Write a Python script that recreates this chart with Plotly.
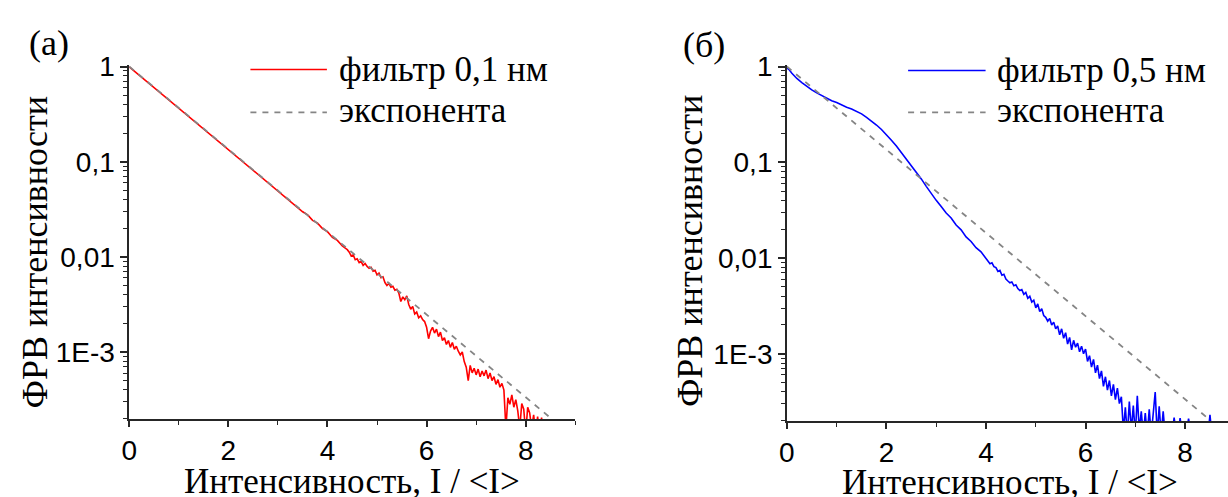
import plotly.graph_objects as go

W, H = 1228, 497

# ---------------- data ----------------
# panel (a): filter 0.1 nm
red_x_main = [0.0, 0.1, 0.2, 0.3, 0.4, 0.5, 0.6, 0.7, 0.8, 0.9, 1.0, 1.1, 1.2, 1.3, 1.4,
              1.5, 1.6, 1.7, 1.8, 1.9, 2.0, 2.1, 2.2, 2.3, 2.4, 2.5, 2.6, 2.7, 2.8, 2.9,
              3.0, 3.1, 3.2, 3.3, 3.4, 3.5, 3.6, 3.7, 3.8, 3.9, 4.0, 4.1, 4.2, 4.3, 4.4]
red_y_main = [0.995, 0.90, 0.815, 0.742, 0.668, 0.606, 0.551, 0.495, 0.451, 0.405, 0.369,
              0.331, 0.302, 0.271, 0.248, 0.222, 0.203, 0.182, 0.166, 0.149, 0.136, 0.121,
              0.112, 0.0995, 0.0912, 0.0815, 0.0748, 0.0668, 0.0612, 0.0545, 0.0502, 0.0446,
              0.0411, 0.0364, 0.0337, 0.0298, 0.0276, 0.0242, 0.0226, 0.0198, 0.0184, 0.0160,
              0.0149, 0.0130, 0.0119]
red_x_tail = [4.44, 4.48, 4.52, 4.56, 4.60, 4.64, 4.68, 4.72, 4.76, 4.80, 4.84, 4.88, 4.92,
              4.96, 5.00, 5.04, 5.08, 5.12, 5.16, 5.20, 5.24, 5.28, 5.32, 5.36, 5.40, 5.44,
              5.48, 5.52, 5.56, 5.60, 5.64, 5.68, 5.72, 5.76, 5.80, 5.84, 5.88, 5.92, 5.96,
              6.00, 6.04, 6.08, 6.12, 6.16, 6.20, 6.24, 6.28, 6.32, 6.36, 6.40, 6.44, 6.48,
              6.52, 6.56, 6.60, 6.64, 6.68, 6.72, 6.76, 6.80, 6.84, 6.88, 6.92, 6.96, 7.00,
              7.04, 7.08, 7.12, 7.16, 7.20, 7.24, 7.28, 7.32, 7.36, 7.40, 7.44, 7.48, 7.52,
              7.56, 7.60, 7.64, 7.68, 7.72, 7.76, 7.80, 7.84, 7.88, 7.92, 7.96, 8.00, 8.04,
              8.08, 8.12, 8.16, 8.20, 8.24, 8.28, 8.32, 8.36]
red_y_tail = [0.0112, 0.0102, 0.0105, 0.00933, 0.00955, 0.00871, 0.00891, 0.00813, 0.00851,
              0.00794, 0.00759, 0.00776, 0.00708, 0.00724, 0.00646, 0.00676, 0.00603, 0.00617,
              0.00537, 0.00501, 0.00525, 0.00479, 0.00490, 0.00447, 0.00457, 0.00417, 0.00339,
              0.00380, 0.00355, 0.00389, 0.00316, 0.00282, 0.00302, 0.00251, 0.00263, 0.00229,
              0.00240, 0.00219, 0.00209, 0.00182, 0.00138, 0.00166, 0.00182, 0.00158, 0.00174,
              0.00145, 0.00162, 0.00132, 0.00141, 0.00120, 0.00132, 0.00112, 0.00126, 0.00107,
              0.00115, 0.00102, 0.000933, 0.00100, 0.000794, 0.000692, 0.000501, 0.000724,
              0.000603, 0.000676, 0.000575, 0.000661, 0.000550, 0.000631, 0.000562, 0.000646,
              0.000525, 0.000603, 0.000501, 0.000550, 0.000457, 0.000513, 0.000427, 0.000468,
              0.000398, 0.000158, 0.000331, 0.000282, 0.000355, 0.000263, 0.000316, 0.000240,
              0.000158, 0.000288, 0.000251, 0.000141, 0.000263, 0.000229, 0.000158, 0.000219,
              0.000141, 0.000209, 0.000141, 0.000204, 0.000126]

# panel (b): filter 0.5 nm
blue_x_main = [0.0, 0.05, 0.1, 0.15, 0.2, 0.3, 0.4, 0.5, 0.6, 0.7, 0.8, 0.9, 1.0, 1.1, 1.2,
               1.3, 1.4, 1.5, 1.6, 1.7, 1.8, 1.9, 2.0, 2.1, 2.2, 2.3, 2.4, 2.5, 2.6, 2.7,
               2.8, 2.9, 3.0, 3.1, 3.2, 3.3, 3.4, 3.5, 3.6, 3.7, 3.8, 3.9, 4.0]
blue_y_main = [0.97, 0.92, 0.85, 0.79, 0.75, 0.68, 0.62, 0.57, 0.53, 0.495, 0.465, 0.44,
               0.42, 0.395, 0.375, 0.36, 0.34, 0.32, 0.295, 0.27, 0.245, 0.22, 0.195, 0.17,
               0.148, 0.127, 0.108, 0.092, 0.079, 0.067, 0.056, 0.047, 0.040, 0.0345, 0.0295,
               0.0262, 0.0221, 0.0197, 0.0166, 0.0149, 0.0128, 0.0116, 0.0100]
blue_x_tail = [4.04, 4.08, 4.12, 4.16, 4.20, 4.24, 4.28, 4.32, 4.36, 4.40, 4.44, 4.48, 4.52,
               4.56, 4.60, 4.64, 4.68, 4.72, 4.76, 4.80, 4.84, 4.88, 4.92, 4.96, 5.00, 5.04,
               5.08, 5.12, 5.16, 5.20, 5.24, 5.28, 5.32, 5.36, 5.40, 5.44, 5.48, 5.52, 5.56,
               5.60, 5.64, 5.68, 5.72, 5.76, 5.80, 5.84, 5.88, 5.92, 5.96, 6.00, 6.04, 6.08,
               6.12, 6.16, 6.20, 6.24, 6.28, 6.32, 6.36, 6.40, 6.44, 6.48, 6.52, 6.56, 6.60,
               6.64, 6.68, 6.72, 6.76, 6.80, 6.84, 6.88, 6.92, 6.96, 7.00, 7.04, 7.08, 7.12,
               7.16, 7.20, 7.24, 7.28, 7.32, 7.36, 7.40, 7.44, 7.48, 7.52, 7.56, 7.60,
               None, 7.76, 7.78, 7.80, None, 7.88, 7.90, 7.92, None, 8.05, 8.07, 8.09,
               None, 8.48, 8.50, 8.52]
blue_y_tail = [0.00933, 0.00871, 0.00891, 0.00813, 0.00794, 0.00724, 0.00741, 0.00661,
               0.00676, 0.00603, 0.00575, 0.00550, 0.00562, 0.00513, 0.00525, 0.00479,
               0.00457, 0.00468, 0.00417, 0.00437, 0.00380, 0.00398, 0.00347, 0.00363,
               0.00302, 0.00331, 0.00275, 0.00295, 0.00251, 0.00240, 0.00219, 0.00234,
               0.00200, 0.00214, 0.00182, 0.00195, 0.00158, 0.00182, 0.00145, 0.00166,
               0.00126, 0.00148, 0.00110, 0.00138, 0.00117, 0.00129, 0.00105, 0.00120,
               0.00100, 0.00112, 0.000832, 0.000955, 0.000724, 0.000871, 0.000631, 0.000759,
               0.000550, 0.000661, 0.000457, 0.000575, 0.000417, 0.000525, 0.000363, 0.000479,
               0.000331, 0.000437, 0.000302, 0.000355, 0.000158, 0.000275, 0.000141, 0.000316,
               0.000158, 0.000288, 0.000141, 0.000363, 0.000158, 0.000251, 0.000141, 0.000240,
               0.000141, 0.000263, 0.000141, 0.000219, 0.000398, 0.000141, 0.000282, 0.000141,
               0.000251, 0.000141,
               None, 0.00018, 0.000215, 0.00018, None, 0.00018, 0.000212, 0.00018,
               None, 0.00018, 0.00021, 0.00018, None, 0.00018, 0.00023, 0.00018]

# exponential reference (straight line on the log axis)
exp_x = [0.0, 8.5]
exp_y = [1.0, 2.03e-4]

y_tickvals = [1e-3, 1e-2, 1e-1, 1.0]
y_ticktext = ["1E-3", "0,01", "0,1", "1"]
x_tickvals = [0, 2, 4, 6, 8]
x_minorvals = [1, 3, 5, 7, 9]
y_minorvals = [k * 10.0 ** e for e in (-4, -3, -2, -1) for k in range(2, 10)]

red_x = red_x_main + red_x_tail
red_y = red_y_main + red_y_tail
blue_x = blue_x_main + blue_x_tail
blue_y = blue_y_main + blue_y_tail
assert len(red_x) == len(red_y) and len(blue_x) == len(blue_y)

SANS = "Liberation Sans, Arial, sans-serif"
SERIF = "Liberation Serif, Times New Roman, serif"
AX = "#262626"

fig = go.Figure()
fig.add_trace(go.Scatter(x=red_x, y=red_y, mode="lines", xaxis="x", yaxis="y",
                         line=dict(color="#ff0000", width=1.6), connectgaps=False))
fig.add_trace(go.Scatter(x=exp_x, y=exp_y, mode="lines", xaxis="x", yaxis="y",
                         line=dict(color="#858585", width=1.8, dash="6px,6px")))
fig.add_trace(go.Scatter(x=blue_x, y=blue_y, mode="lines", xaxis="x2", yaxis="y2",
                         line=dict(color="#0000ff", width=1.6), connectgaps=False))
fig.add_trace(go.Scatter(x=exp_x, y=exp_y, mode="lines", xaxis="x2", yaxis="y2",
                         line=dict(color="#858585", width=1.8, dash="6px,6px")))


def px_x(v):
    return v / W


def px_y(v):
    return 1 - v / H


common = dict(showline=True, linecolor=AX, linewidth=1.6, ticks="outside", tickcolor=AX,
              tickwidth=1.5, showgrid=False, zeroline=False, mirror=False,
              tickfont=dict(family=SANS, size=28, color="black"))

xa = dict(common, range=[0, 9.0], tickmode="array", tickvals=x_tickvals, ticklen=6,
          minor=dict(tickmode="array", tickvals=x_minorvals, ticks="outside", ticklen=4,
                     tickwidth=1.3, tickcolor=AX, showgrid=False))
ya = dict(common, type="log", tickmode="array", tickvals=y_tickvals, ticktext=y_ticktext,
          ticklen=7,
          minor=dict(tickmode="array", tickvals=y_minorvals, ticks="outside", ticklen=4,
                     tickwidth=1.3, tickcolor=AX, showgrid=False))

fig.update_layout(
    width=W, height=H, margin=dict(l=0, r=0, t=0, b=0),
    paper_bgcolor="white", plot_bgcolor="white", showlegend=False,
    xaxis=dict(xa, domain=[px_x(122), px_x(571)], anchor="y"),
    yaxis=dict(ya, domain=[px_y(417), px_y(53)], range=[-3.705, 0.0205], anchor="x"),
    xaxis2=dict(xa, domain=[px_x(784), 1.0], range=[0, (W - 784) / 50.1], anchor="y2"),
    yaxis2=dict(ya, domain=[px_y(419), px_y(53)], range=[-3.703, 0.02], anchor="x2"),
)

ann = []
shapes = []


def text(x, y, s, size, xanchor="center", angle=0):
    ann.append(dict(x=px_x(x), y=px_y(y), xref="paper", yref="paper", text=s,
                    showarrow=False, xanchor=xanchor, yanchor="middle", textangle=angle,
                    font=dict(family=SERIF, size=size, color="black")))


# panel labels
text(41, 31, "(а)", 36)
text(701, 33, "(б)", 36)
# axis titles
text(346.5, 481, "Интенсивность, I / &lt;I&gt;", 35)
text(1009, 482, "Интенсивность, I / &lt;I&gt;", 35)
text(27, 246, "ФРВ интенсивности", 36, angle=-90)
text(686, 245, "ФРВ интенсивности", 36, angle=-90)

# legends
legends = [
    (244, 321, 58, 102, 331, "#ff0000", "фильтр 0,1 нм"),
    (906, 984, 59, 102, 993, "#0000ff", "фильтр 0,5 нм"),
]
for x0, x1, y1, y2, tx, col, lab in legends:
    shapes.append(dict(type="line", xref="paper", yref="paper", x0=px_x(x0), x1=px_x(x1),
                       y0=px_y(y1), y1=px_y(y1), line=dict(color=col, width=1.6)))
    shapes.append(dict(type="line", xref="paper", yref="paper", x0=px_x(x0), x1=px_x(x1),
                       y0=px_y(y2), y1=px_y(y2),
                       line=dict(color="#858585", width=1.8, dash="6px,6px")))
    text(tx, y1, lab, 35, xanchor="left")
    text(tx, y2 - 2, "экспонента", 35, xanchor="left")

fig.update_layout(annotations=ann, shapes=shapes)
fig.write_html("out.html")
